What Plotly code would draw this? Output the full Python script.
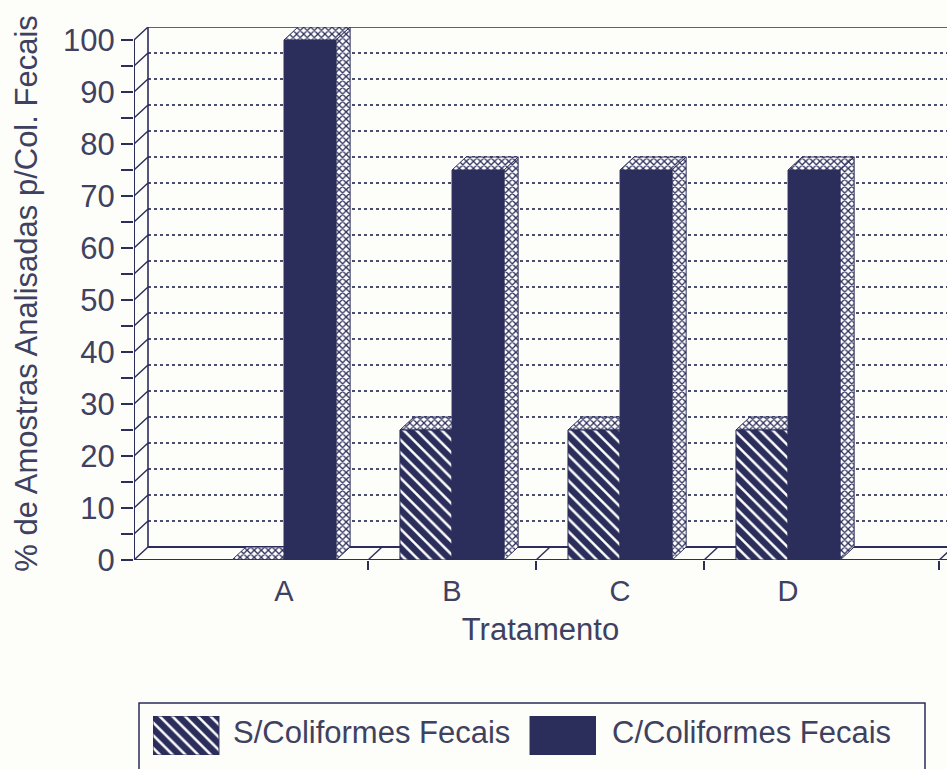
import plotly.graph_objects as go

# Data
categories = ["A", "B", "C", "D"]
sem_coliformes = [0, 25, 25, 25]
com_coliformes = [100, 75, 75, 75]
y_major_ticks = list(range(0, 101, 10))
y_all_ticks = list(range(0, 101, 5))
x_boundaries = [0.5, 1.5, 2.5, 3.9]
series_names = ["S/Coliformes Fecais", "C/Coliformes Fecais"]

# Style and layout
W, H = 947, 769
INK = "#2b2d5a"
GRID = "#4b4d70"
TEXT = "#3f4160"
BG = "#fdfdf9"
FONT = "Liberation Sans"
DX = 14 / 168   # oblique depth, x units
DY = 2.5        # oblique depth, y units
BW = 0.31
X0, X1 = -0.893, 3.946
idx = list(range(len(categories)))

fig = go.Figure()


def line(xs, ys, dash="solid", width=1.6, z=0, color=INK):
    fig.add_trace(go.Scatter(x=xs, y=ys, mode="lines", cliponaxis=False, zorder=z,
                             line=dict(color=color, width=width, dash=dash),
                             hoverinfo="skip", showlegend=False))


def face(xs, ys, z):
    fig.add_trace(go.Scatter(x=xs, y=ys, mode="lines", fill="toself", zorder=z, cliponaxis=False,
                             fillcolor="#ffffff",
                             fillpattern=dict(shape="x", size=5, solidity=0.45, fgopacity=1,
                                              fgcolor=INK, bgcolor="#ffffff"),
                             line=dict(color=INK, width=1),
                             hoverinfo="skip", showlegend=False))


# back-wall dotted grid
for v in y_all_ticks[1:-1]:
    if v > 0:
        line([X0 + DX, X1], [v + DY, v + DY], dash="3px,3px", width=2, z=0, color=GRID)
# wall, floor, top
line([X0 + DX, X0 + DX], [DY, 100 + DY], z=0)
line([X0 + DX, X1], [DY, DY], width=2, z=0)
line([X0 + DX, X1], [100 + DY, 100 + DY], z=0)
# front axis and slants
line([X0, X0], [0, 100], width=2, z=0)
for v in y_all_ticks:
    line([X0, X0 + DX], [v, v + DY], width=1.4, z=0)
for b in x_boundaries:
    line([b, b + DX], [0, DY], width=1.4, z=0)
line([X0, X1], [0, 0], width=2, z=0)

# S bar top faces
for i, v in zip(idx, sem_coliformes):
    face([i - BW, i, i + DX, i - BW + DX, i - BW], [v, v, v + DY, v + DY, v], 1)

S_PATTERN = dict(shape="\\", size=9, solidity=0.72, fgopacity=1, fgcolor=INK, bgcolor="#ffffff")
fig.add_trace(go.Bar(x=idx, y=sem_coliformes, width=BW, offset=-BW, zorder=2, name=series_names[0],
                     marker=dict(color="#ffffff", line=dict(color=INK, width=1), pattern=S_PATTERN),
                     showlegend=False))
fig.add_trace(go.Bar(x=idx, y=com_coliformes, width=BW, offset=0, zorder=3, name=series_names[1],
                     marker=dict(color=INK, line=dict(color=INK, width=1)), showlegend=False))

# C bar top and side faces
for i, v in zip(idx, com_coliformes):
    face([i, i + BW, i + BW + DX, i + DX, i], [v, v, v + DY, v + DY, v], 4)
    face([i + BW, i + BW + DX, i + BW + DX, i + BW, i + BW], [0, DY, v + DY, v, 0], 4)

# Legend swatches on their own small axes
fig.add_trace(go.Bar(x=[0], y=[1], width=0.175, xaxis="x2", yaxis="y2", showlegend=False,
                     marker=dict(color="#ffffff", line=dict(color=INK, width=1), pattern=S_PATTERN)))
fig.add_trace(go.Bar(x=[1], y=[1], width=0.175, xaxis="x2", yaxis="y2", showlegend=False,
                     marker=dict(color=INK, line=dict(color=INK, width=1))))

fig.update_layout(
    width=W, height=H, margin=dict(l=0, r=0, t=0, b=0, autoexpand=False), autosize=False,
    paper_bgcolor=BG, plot_bgcolor=BG, barmode="overlay",
    font=dict(family=FONT, color=TEXT, size=31),
    xaxis=dict(domain=[134 / W, 1], range=[X0, X1], tickvals=idx, ticktext=categories, automargin=False,
               ticks="outside", ticklen=5, tickcolor="rgba(0,0,0,0)", showgrid=False, zeroline=False,
               showline=False, tickfont=dict(size=29),
               minor=dict(tickvals=x_boundaries, ticks="outside", ticklen=9, tickcolor=INK,
                          tickwidth=2, showgrid=False),
               title=dict(text="Tratamento", font=dict(size=31), standoff=12)),
    yaxis=dict(domain=[209 / H, 1 - 27 / H], range=[0, 100 + DY], tickvals=y_major_ticks, automargin=False,
               ticks="outside", ticklen=12, tickwidth=2, tickcolor=INK, showgrid=False, zeroline=False,
               showline=False, tickfont=dict(size=31),
               minor=dict(tickvals=y_all_ticks, ticks="outside", ticklen=12, tickcolor=INK,
                          tickwidth=2, showgrid=False),
               title=dict(text="% de Amostras Analisadas p/Col. Fecais", font=dict(size=31), standoff=16)),
    xaxis2=dict(domain=[153 / W, 596 / W], range=[-0.0875, 1.0875], visible=False, anchor="y2", automargin=False),
    yaxis2=dict(domain=[1 - 755 / H, 1 - 716 / H], range=[0, 1], visible=False, anchor="x2", automargin=False),
    shapes=[dict(type="rect", xref="paper", yref="paper", x0=139 / W, x1=925 / W,
                 y0=-0.02, y1=1 - 703 / H, line=dict(color=INK, width=1.5), fillcolor="rgba(0,0,0,0)")],
    annotations=[
        dict(text=series_names[0], xref="paper", yref="paper", x=231 / W, y=1 - 732 / H,
             xanchor="left", yanchor="middle", showarrow=False, font=dict(size=31)),
        dict(text=series_names[1], xref="paper", yref="paper", x=610 / W, y=1 - 732 / H,
             xanchor="left", yanchor="middle", showarrow=False, font=dict(size=31)),
    ],
)

fig.write_html("out.html", config={"displayModeBar": False},
               post_script="document.body.style.margin='0';document.body.style.background='%s';" % BG)
